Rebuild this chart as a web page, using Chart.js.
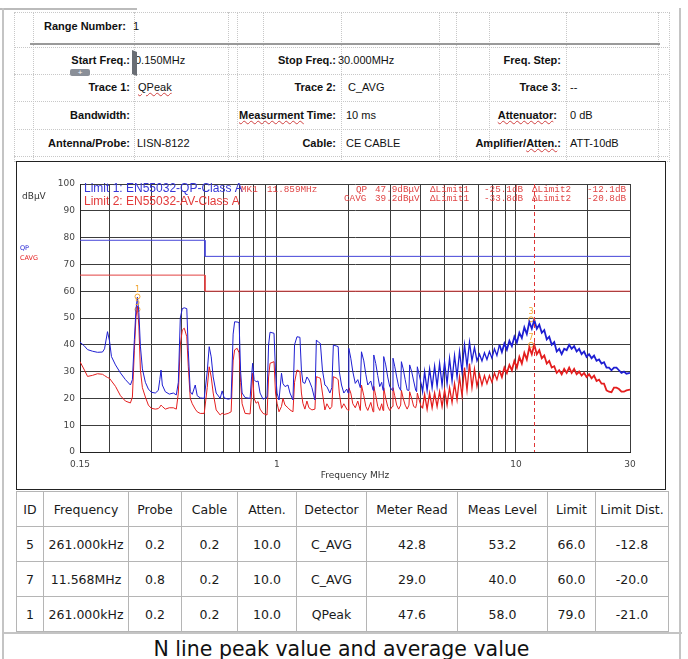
<!DOCTYPE html>
<html>
<head>
<meta charset="utf-8">
<script src="https://cdn.jsdelivr.net/npm/chart.js@4.4.0/dist/chart.umd.min.js"></script>
<style>
  body { margin: 0; width: 688px; height: 659px; overflow: hidden; background: #fff; position: relative; font-family: "Liberation Sans", Arial, sans-serif; }
  .abs { position: absolute; white-space: nowrap; }
  .lbl { font-weight: bold; font-size: 11px; line-height: 14px; color: #111; }
  .val { font-size: 11px; line-height: 14px; color: #111; }
  .sp { text-decoration: underline wavy #d04040; text-decoration-thickness: 1px; }
  .dv { position: absolute; border-left: 1px dotted #c8c8c8; }
  .dh { position: absolute; border-top: 1px dotted #c8c8c8; }
  #chartBox { position: absolute; left: 16px; top: 161px; width: 648px; height: 327px; border: 1px solid #222; }
  #res { position: absolute; left: 16px; top: 491px; width: 652px; border-collapse: collapse; table-layout: fixed; font-family: "DejaVu Sans", sans-serif; font-size: 12.5px; color: #1a1a1a; }
  #res td, #res th { border: 1px solid #b5b5b5; height: 34px; padding: 0; text-align: center; font-weight: normal; white-space: nowrap; }
  #caption { position: absolute; left: 0; top: 637px; width: 683px; text-align: center; font-family: "DejaVu Sans", sans-serif; font-size: 20.5px; line-height: 24px; color: #111; }
</style>
</head>
<body>
<!-- page frame -->
<div class="abs" style="left:0;top:8px;width:137px;height:2px;background:#bbb"></div>
<div class="abs" style="left:2px;top:8px;width:2px;height:651px;background:#c4c4c4"></div>
<div class="abs" style="left:679px;top:8px;width:2px;height:651px;background:#c4c4c4"></div>

<!-- header table grid -->
<div class="abs" style="left:14px;top:12px;width:654px;height:148px;border:1px dotted #c8c8c8"></div>
<div class="dv" style="left:33px;top:12px;height:148px"></div>
<div class="dv" style="left:134px;top:12px;height:148px"></div>
<div class="dv" style="left:228px;top:12px;height:148px"></div>
<div class="dv" style="left:237px;top:12px;height:148px"></div>
<div class="dv" style="left:263px;top:12px;height:148px"></div>
<div class="dv" style="left:341px;top:12px;height:148px"></div>
<div class="dv" style="left:439px;top:12px;height:148px"></div>
<div class="dv" style="left:456px;top:12px;height:148px"></div>
<div class="dv" style="left:489px;top:12px;height:148px"></div>
<div class="dv" style="left:566px;top:12px;height:148px"></div>
<div class="dv" style="left:658px;top:12px;height:148px"></div>
<div class="abs" style="left:30px;top:43px;width:630px;height:2px;background:#9a9a9a"></div>
<div class="dh" style="left:14px;top:47px;width:654px"></div>
<div class="dh" style="left:14px;top:74px;width:654px"></div>
<div class="dh" style="left:14px;top:101px;width:654px"></div>
<div class="dh" style="left:14px;top:129px;width:654px"></div>
<div class="dh" style="left:14px;top:156px;width:654px"></div>

<!-- header texts -->
<div class="abs lbl" style="left:44px;top:19px">Range Number:</div>
<div class="abs val" style="left:133px;top:19px">1</div>

<div class="abs lbl" style="right:558px;top:53px">Start Freq.:</div>
<div class="abs val" style="left:135px;top:53px">0.150MHz</div>
<div class="abs lbl" style="right:352px;top:53px">Stop Freq.:</div>
<div class="abs val" style="left:338px;top:53px">30.000MHz</div>
<div class="abs lbl" style="right:127px;top:53px">Freq. Step:</div>

<div class="abs lbl" style="right:558px;top:80px">Trace 1:</div>
<div class="abs val" style="left:138px;top:80px"><span class="sp">QPeak</span></div>
<div class="abs lbl" style="right:352px;top:80px">Trace 2:</div>
<div class="abs val" style="left:348px;top:80px">C_AVG</div>
<div class="abs lbl" style="right:127px;top:80px">Trace 3:</div>
<div class="abs val" style="left:570px;top:80px">--</div>

<div class="abs lbl" style="right:558px;top:108px">Bandwidth:</div>
<div class="abs lbl" style="right:352px;top:108px"><span class="sp">Measurment</span> Time:</div>
<div class="abs val" style="left:346px;top:108px">10 ms</div>
<div class="abs lbl" style="right:131px;top:108px"><span class="sp">Attenuator</span>:</div>
<div class="abs val" style="left:570px;top:108px">0 dB</div>

<div class="abs lbl" style="right:558px;top:136px">Antenna/Probe:</div>
<div class="abs val" style="left:137px;top:136px">LISN-8122</div>
<div class="abs lbl" style="right:352px;top:136px">Cable:</div>
<div class="abs val" style="left:346px;top:136px">CE CABLE</div>
<div class="abs lbl" style="right:127px;top:136px">Amplifier/<span class="sp">Atten.</span>:</div>
<div class="abs val" style="left:570px;top:136px">ATT-10dB</div>

<!-- table editing handles seen in the source document -->
<div class="abs" style="left:70px;top:69px;width:20px;height:7px;background:#8a8f98;border-radius:2px;color:#fff;font-size:8px;line-height:7px;text-align:center">+</div>
<div class="abs" style="left:132px;top:51px;width:5px;height:24px;background:#6a6e74;transform:skewY(20deg)"></div>

<div id="chartBox"><canvas id="emi" width="648" height="327"></canvas></div>

<table id="res">
  <colgroup>
    <col style="width:27px"><col style="width:85px"><col style="width:53px"><col style="width:56px"><col style="width:59px">
    <col style="width:70px"><col style="width:91px"><col style="width:90px"><col style="width:48px"><col style="width:73px">
  </colgroup>
  <tr><th>ID</th><th>Frequency</th><th>Probe</th><th>Cable</th><th>Atten.</th><th>Detector</th><th>Meter Read</th><th>Meas Level</th><th>Limit</th><th>Limit Dist.</th></tr>
  <tr><td>5</td><td>261.000kHz</td><td>0.2</td><td>0.2</td><td>10.0</td><td>C_AVG</td><td>42.8</td><td>53.2</td><td>66.0</td><td>-12.8</td></tr>
  <tr><td>7</td><td>11.568MHz</td><td>0.8</td><td>0.2</td><td>10.0</td><td>C_AVG</td><td>29.0</td><td>40.0</td><td>60.0</td><td>-20.0</td></tr>
  <tr><td>1</td><td>261.000kHz</td><td>0.2</td><td>0.2</td><td>10.0</td><td>QPeak</td><td>47.6</td><td>58.0</td><td>79.0</td><td>-21.0</td></tr>
</table>

<div class="abs" style="left:2px;top:632px;width:680px;height:2px;background:#c4c4c4"></div>
<div id="caption">N line peak value and average value</div>

<script>
// --- Scan data (MHz / dBuV) ---
const freqMHz = [
  0.150, 0.1567, 0.1613, 0.1692, 0.1775, 0.1863, 0.1900, 0.1955, 0.1993, 0.2031,
  0.2111, 0.2215, 0.2324, 0.2438, 0.2485, 0.2533, 0.2571, 0.2607, 0.2645, 0.2684,
  0.2736, 0.2816, 0.2898, 0.2982, 0.3099, 0.3190, 0.3236, 0.3274, 0.3315, 0.3412,
  0.3545, 0.3687, 0.3794, 0.3868, 0.3942, 0.4018, 0.4096, 0.4196, 0.4256, 0.4339,
  0.4423, 0.4552, 0.4640, 0.4777, 0.4964, 0.5109, 0.5208, 0.5309, 0.5412, 0.5570,
  0.5788, 0.5900, 0.6014, 0.6250, 0.6433, 0.6558, 0.6653, 0.6815, 0.6947, 0.7048,
  0.7150, 0.7359, 0.7722, 0.7834, 0.7910, 0.8024, 0.8180, 0.8338, 0.8500, 0.8748,
  0.9090, 0.9228, 0.9357, 0.9723, 0.9864, 1.001,
  1.020, 1.045, 1.060, 1.081, 1.112, 1.134, 1.167, 1.185, 1.213, 1.248,
  1.266, 1.284, 1.309, 1.335, 1.361, 1.401, 1.442, 1.462, 1.491, 1.520,
  1.550, 1.587, 1.618, 1.665, 1.697, 1.722, 1.781, 1.804, 1.824, 1.863,
  1.905, 1.960,
  1.985, 1.999, 2.037, 2.077, 2.127, 2.179, 2.233, 2.258, 2.309, 2.354,
  2.399, 2.470, 2.525, 2.542, 2.591, 2.641, 2.692, 2.744, 2.779, 2.797,
  2.852, 2.907, 2.964, 3.039, 3.059, 3.110, 3.170, 3.231, 3.294, 3.317,
  3.375, 3.440, 3.506, 3.568, 3.592, 3.662, 3.733, 3.805, 3.841, 3.867,
  3.935, 4.011, 4.069,
  4.148, 4.249, 4.353, 4.459, 4.567, 4.678, 4.792, 4.908, 5.028, 5.150,
  5.275, 5.403, 5.534, 5.669, 5.807, 5.948, 6.092, 6.240, 6.392, 6.547,
  6.706, 6.869, 7.037, 7.208, 7.383, 7.562, 7.746, 7.934, 8.127, 8.324,
  8.527,
  8.734, 8.946, 9.163, 9.387, 9.615, 9.848, 10.087, 10.332, 10.583, 10.840,
  11.103, 11.373, 11.649, 11.932, 12.222, 12.520, 12.824, 13.135, 13.454, 13.781,
  14.115, 14.458, 14.809, 15.168, 15.536, 15.913, 16.299, 16.695, 17.100, 17.515,
  17.940, 18.376, 18.822, 19.279, 19.747, 20.226, 20.717, 21.220, 21.735, 22.263,
  22.803, 23.357, 23.924, 24.505, 25.100, 25.709, 26.333, 26.972, 27.627, 28.297,
  28.984, 30.0
];

const qpLevel = [
  41.0, 39.5, 38.2, 37.6, 37.2, 37.3, 38.5, 44.9, 41.5, 35.6,
  32.5, 29.5, 27.0, 25.0, 27.0, 42.0, 53.0, 57.8, 52.0, 39.5,
  31.0, 26.0, 23.5, 22.3, 22.0, 23.0, 27.0, 30.6, 25.0, 22.5,
  21.6, 22.0, 21.3, 26.0, 50.0, 53.5, 53.8, 53.5, 38.0, 22.5,
  21.5, 25.0, 21.0, 20.2, 20.0, 30.0, 39.3, 35.5, 28.0, 22.0,
  20.0, 22.8, 20.2, 19.7, 20.0, 44.0, 48.6, 48.5, 48.3, 30.0,
  22.0, 20.3, 20.0, 28.0, 33.1, 27.0, 26.2, 26.5, 22.0, 19.7,
  20.5, 40.0, 44.7, 44.3, 30.0, 22.0,
  19.4, 29.4, 25.5, 24.4, 25.0, 22.0, 19.4, 40.0, 43.0, 42.8,
  30.6, 26.0, 25.6, 28.0, 26.9, 24.0, 19.4, 41.8, 41.0, 40.5,
  30.6, 25.0, 24.4, 22.0, 24.0, 39.9, 39.5, 39.3, 30.0, 25.0,
  22.0, 23.5,
  22.0, 38.7, 35.0, 30.0, 25.6, 27.0, 24.0, 37.4, 34.0, 29.0,
  25.0, 26.5, 23.0, 36.2, 33.0, 28.5, 24.4, 26.0, 23.0, 35.6,
  32.5, 28.0, 24.4, 23.0, 35.0, 32.0, 28.0, 24.4, 23.0, 33.7,
  31.0, 27.0, 23.1, 23.0, 32.5, 30.0, 26.5, 23.1, 22.5, 31.8,
  29.0, 25.5, 22.5,
  30.0, 23.0, 31.0, 24.0, 32.0, 24.5, 33.0, 25.0, 33.5, 25.5,
  35.0, 26.5, 36.0, 28.0, 37.5, 30.0, 40.0, 32.0, 41.0, 34.0,
  39.0, 34.0, 36.5, 34.0, 37.0, 34.5, 37.5, 35.0, 38.5, 36.0,
  40.0,
  37.3, 40.5, 38.2, 41.5, 39.5, 43.0, 40.8, 44.5, 42.5, 46.5,
  44.0, 48.5, 46.0, 49.3, 46.0, 47.5, 44.5, 45.5, 42.0, 43.0,
  40.0, 41.0, 37.5, 38.5, 36.5, 38.5, 38.0, 40.0, 38.5, 39.5,
  37.5, 38.5, 36.5, 37.5, 35.5, 36.5, 35.0, 36.0, 34.0, 34.5,
  33.0, 33.5, 31.5, 31.5, 30.5, 31.5, 31.5, 30.5, 29.5, 30.0,
  29.2, 29.5
];

const avgLevel = [
  33.7, 30.5, 28.2, 28.6, 29.2, 29.0, 28.5, 27.8, 27.5, 26.5,
  24.5, 21.0, 19.0, 18.3, 20.5, 38.0, 50.0, 54.5, 47.0, 30.6,
  24.0, 20.5, 17.5, 16.3, 16.0, 16.2, 16.8, 17.5, 17.0, 16.0,
  16.5, 16.5, 16.0, 22.0, 40.0, 45.5, 46.2, 43.0, 32.0, 20.0,
  18.0, 16.0, 15.0, 14.4, 14.4, 24.0, 31.8, 28.0, 22.0, 15.7,
  13.8, 14.5, 14.0, 14.4, 15.0, 34.0, 38.1, 38.7, 37.0, 26.0,
  18.0, 14.4, 14.2, 22.0, 29.4, 20.0, 18.2, 18.8, 16.0, 14.4,
  13.8, 28.0, 33.1, 33.7, 22.0, 18.2,
  15.0, 17.0, 20.0, 17.5, 16.5, 15.7, 15.0, 26.0, 30.6, 30.0,
  22.0, 18.2, 16.0, 19.0, 16.5, 15.7, 16.0, 28.1, 27.8, 27.5,
  22.0, 15.7, 18.0, 16.0, 17.0, 28.1, 27.5, 26.9, 22.0, 16.3,
  18.0, 16.0,
  15.5, 24.0, 22.0, 18.0, 16.5, 19.0, 15.5, 25.0, 21.0, 17.0,
  15.5, 18.5, 15.0, 24.5, 21.0, 17.0, 15.5, 18.0, 15.5, 24.0,
  20.0, 17.0, 15.5, 17.0, 24.0, 21.0, 17.5, 16.0, 17.5, 23.0,
  20.0, 17.5, 16.0, 17.5, 22.5, 20.0, 17.0, 16.5, 18.0, 22.0,
  19.5, 17.0, 16.5,
  21.5, 16.0, 22.0, 16.5, 22.0, 17.0, 22.5, 17.0, 23.0, 17.5,
  24.0, 18.5, 25.5, 19.5, 28.0, 21.0, 31.5, 23.0, 33.0, 24.0,
  31.0, 24.5, 29.0, 25.0, 28.5, 25.5, 28.5, 26.0, 29.5, 27.0,
  30.5,
  28.0, 31.5, 29.5, 32.5, 30.5, 34.0, 31.5, 35.5, 33.0, 37.0,
  34.5, 39.0, 36.5, 40.0, 36.5, 38.0, 35.0, 36.0, 33.0, 34.0,
  31.5, 32.0, 29.5, 30.5, 29.0, 31.0, 29.5, 31.5, 29.5, 31.0,
  29.0, 30.0, 28.5, 29.5, 28.0, 29.0, 27.5, 28.5, 26.5, 27.0,
  25.5, 25.5, 23.0, 22.5, 22.3, 24.0, 24.0, 23.5, 22.5, 22.5,
  23.0, 23.3
];

// EN55032 class A limits
const qpLimitFreq = [0.15, 0.5, 0.5, 30];
const qpLimitLevel = [79, 79, 73, 73];
const avLimitFreq = [0.15, 0.5, 0.5, 30];
const avLimitLevel = [66, 66, 60, 60];

// final measurement markers
const markerFreq = [0.261, 0.261, 11.568, 11.568];
const markerLevel = [58.0, 53.2, 49.5, 40.0];
const markerIds = ['1', '5', '3', '7'];
const mk1Freq = 11.859;

// axis ticks
const xGridValues = [0.15, 0.2, 0.3, 0.4, 0.5, 0.6, 0.7, 0.8, 0.9, 1, 2, 3, 4, 5, 6, 7, 8, 9, 10, 20, 30];
const xLabelValues = [0.15, 1, 10, 30];
const yMin = 0, yMax = 100, yStep = 10;

const pts = (xs, ys) => xs.map((x, i) => ({ x: x, y: ys[i] }));

const BLUE = '#1e1ed2';
const RED = '#e41e1e';

// the dense scan above a few MHz shows as a thicker band
const traceWidth = ctx => {
  const f = ctx.p0.parsed.x;
  return f > 8.5 ? 1.8 : (f > 4 ? 1.3 : 1);
};

const overlay = {
  id: 'overlay',
  afterDatasetsDraw(chart) {
    const { ctx, chartArea: a, scales } = chart;
    ctx.save();

    // MK1 dashed marker line
    const mx = Math.round(scales.x.getPixelForValue(mk1Freq)) + 0.5;
    ctx.strokeStyle = '#e03535';
    ctx.lineWidth = 1;
    ctx.setLineDash([4, 3]);
    ctx.beginPath();
    ctx.moveTo(mx, a.top);
    ctx.lineTo(mx, a.bottom);
    ctx.stroke();
    ctx.setLineDash([]);

    // marker ids
    const meta = chart.getDatasetMeta(4);
    ctx.fillStyle = '#f2a531';
    ctx.font = '8px "DejaVu Sans"';
    ctx.textAlign = 'center';
    ctx.textBaseline = 'bottom';
    meta.data.forEach((p, i) => ctx.fillText(markerIds[i], p.x, p.y - 3));

    // limit legend
    ctx.textAlign = 'left';
    ctx.textBaseline = 'middle';
    ctx.font = '12px "Liberation Sans"';
    ctx.fillStyle = '#3535d6';
    ctx.fillText('Limit 1: EN55032-QP-Class A', a.left + 4, a.top + 5);
    ctx.fillStyle = '#e23a3a';
    ctx.fillText('Limit 2: EN55032-AV-Class A', a.left + 4, a.top + 18);

    // marker readout
    ctx.font = '9.3px "Liberation Mono"';
    ctx.fillStyle = '#e04545';
    const y1 = a.top + 5.5, y2 = a.top + 15;
    ctx.fillText('MK1', a.left + 161, y1);
    ctx.fillText('11.859MHz', a.left + 187, y1);
    const cols = [295, 350, 404, 452, 507];
    const row1 = ['47.9dB\u03bcV', '\u0394Limit1', '-25.1dB', '\u0394Limit2', '-12.1dB'];
    const row2 = ['39.2dB\u03bcV', '\u0394Limit1', '-33.8dB', '\u0394Limit2', '-20.8dB'];
    ctx.fillText('QP', a.left + 276, y1);
    ctx.fillText('CAVG', a.left + 264, y2);
    cols.forEach((c, i) => {
      ctx.fillText(row1[i], a.left + c, y1);
      ctx.fillText(row2[i], a.left + c, y2);
    });

    // unit and trace names at the left
    ctx.font = '9px "DejaVu Sans"';
    ctx.fillStyle = '#333';
    ctx.fillText('dB\u03bcV', 5, 35);
    ctx.font = '6.5px "DejaVu Sans"';
    ctx.fillStyle = BLUE;
    ctx.fillText('QP', 3, 86);
    ctx.fillStyle = RED;
    ctx.fillText('CAVG', 3, 96);

    ctx.restore();
  }
};

new Chart(document.getElementById('emi'), {
  type: 'line',
  data: {
    datasets: [
      { data: pts(qpLimitFreq, qpLimitLevel), borderColor: '#4545d8', borderWidth: 1, pointRadius: 0 },
      { data: pts(avLimitFreq, avLimitLevel), borderColor: '#e24040', borderWidth: 1, pointRadius: 0 },
      { data: pts(freqMHz, qpLevel), borderColor: BLUE, borderWidth: 1, pointRadius: 0, segment: { borderWidth: traceWidth } },
      { data: pts(freqMHz, avgLevel), borderColor: RED, borderWidth: 1, pointRadius: 0, segment: { borderWidth: traceWidth } },
      { data: pts(markerFreq, markerLevel), showLine: false, pointRadius: 2.5, pointBorderColor: '#f2a531', pointBackgroundColor: 'rgba(0,0,0,0)', pointBorderWidth: 1 }
    ]
  },
  options: {
    responsive: false,
    animation: false,
    events: [],
    layout: { padding: { left: 0, right: 35, top: 22, bottom: 0 } },
    plugins: { legend: { display: false }, tooltip: { enabled: false } },
    scales: {
      x: {
        type: 'logarithmic',
        min: 0.15,
        max: 30,
        afterBuildTicks: axis => { axis.ticks = xGridValues.map(v => ({ value: v })); },
        afterFit: axis => { axis.height = 37; },
        grid: { color: '#3c3c3c', lineWidth: 1, drawTicks: false },
        border: { color: '#222' },
        ticks: {
          autoSkip: false,
          maxRotation: 0,
          padding: 7,
          color: '#444',
          font: { family: 'DejaVu Sans', size: 9 },
          callback: v => xLabelValues.includes(v) ? String(v) : ''
        },
        title: {
          display: true,
          text: 'Frequency MHz',
          color: '#333',
          font: { family: 'DejaVu Sans', size: 9 },
          padding: { top: 0, bottom: 8 }
        }
      },
      y: {
        min: yMin,
        max: yMax,
        afterFit: axis => { axis.width = 63; },
        grid: { color: '#3c3c3c', lineWidth: 1, drawTicks: false },
        border: { color: '#222' },
        ticks: {
          stepSize: yStep,
          padding: 5,
          color: '#444',
          font: { family: 'DejaVu Sans', size: 9 }
        }
      }
    }
  },
  plugins: [overlay]
});
</script>
</body>
</html>
